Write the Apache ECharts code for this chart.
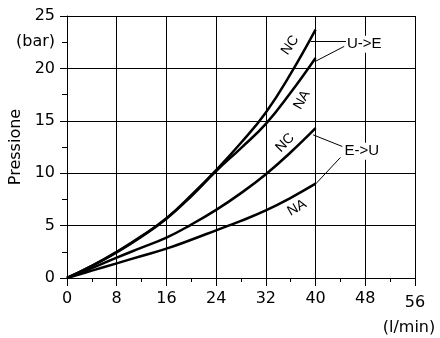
<!DOCTYPE html>
<html>
<head>
<meta charset="utf-8">
<script src="https://cdn.jsdelivr.net/npm/echarts@6/dist/echarts.min.js"></script>
<style>
html, body { margin: 0; padding: 0; background: #fff; }
#box { width: 440px; height: 338px; }
</style>
</head>
<body>
<div id="box"></div>
<script>
// portata (l/min)
var portata = [0, 4, 8, 12, 16, 20, 24, 28, 32, 36, 40];
// pressione (bar)
var ueNC = [0, 1.15, 2.5, 4.0, 5.7, 7.9, 10.3, 12.9, 15.8, 19.5, 23.7];
var ueNA = [0, 1.15, 2.45, 3.95, 5.65, 7.8, 10.2, 12.4, 14.7, 17.7, 21.0];
var euNC = [0, 0.95, 1.95, 2.9, 3.85, 5.1, 6.5, 8.1, 9.9, 12.0, 14.3];
var euNA = [0, 0.7, 1.4, 2.1, 2.8, 3.65, 4.55, 5.45, 6.45, 7.65, 9.0];

// curve labels: [x, y, testo, rotazione]
var curveLabels = [
	[35.9, 22.2, 'NC', 55],
	[37.8, 17.0, 'NA', 60],
	[35.1, 12.9, 'NC', 45],
	[37.0, 6.7, 'NA', 30]
];
// group labels: [x, y, testo]
var groupLabels = [
	[44.9, 22.3, 'U->E'],
	[44.5, 12.1, 'E->U']
];
// leader lines: [x1, y1, x2, y2]
var leaders = [
	[39.2, 22.6, 44.9, 22.6],
	[39.9, 20.65, 44.6, 22.1],
	[39.6, 13.66, 44.3, 12.55],
	[39.9, 8.9, 44.0, 11.5]
];

function pairs(ys) {
	var out = [];
	for (var i = 0; i < portata.length; i++) {
		out.push([portata[i], ys[i]]);
	}
	return out;
}

var myChart = echarts.init(document.getElementById('box'));
var font = 'DejaVu Sans';

function curve(ys) {
	return {
		type: 'line',
		data: pairs(ys),
		smooth: 0.45,
		symbol: 'none',
		lineStyle: { color: '#000', width: 2.5 },
		xAxisIndex: 0,
		yAxisIndex: 0,
		z: 5
	};
}

var series = [curve(ueNC), curve(ueNA), curve(euNC), curve(euNA)];

// annotations
series.push({
	type: 'line',
	data: [],
	xAxisIndex: 0,
	yAxisIndex: 0,
	markLine: {
		silent: true,
		symbol: 'none',
		label: { show: false },
		lineStyle: { color: '#000', width: 1, type: 'solid' },
		data: leaders.map(function (l) {
			return [{ coord: [l[0], l[1]] }, { coord: [l[2], l[3]] }];
		})
	},
	markPoint: {
		silent: true,
		symbol: 'circle',
		symbolSize: 0,
		data: curveLabels.map(function (c) {
			return {
				coord: [c[0], c[1]],
				label: {
					show: true,
					position: 'inside',
					formatter: c[2],
					rotate: c[3],
					color: '#000',
					fontFamily: 'Liberation Sans',
					fontSize: 14
				}
			};
		}).concat(groupLabels.map(function (g) {
			return {
				coord: [g[0], g[1]],
				label: {
					show: true,
					position: 'right',
					distance: 0,
					formatter: g[2],
					color: '#000',
					fontFamily: 'Liberation Sans',
					fontSize: 15,
					backgroundColor: '#fff',
					padding: [1, 1, 1, 1]
				}
			};
		}))
	},
	z: 6
});

var option = {
	animation: false,
	backgroundColor: '#fff',
	grid: { left: 67, right: 25, top: 16, bottom: 60, containLabel: false, outerBoundsMode: 'none' },
	xAxis: [{
		type: 'value',
		min: 0,
		max: 56,
		interval: 8,
		name: 'Portata',
		nameLocation: 'middle',
		nameGap: 42,
		nameTextStyle: { color: '#000', fontFamily: font, fontSize: 16 },
		axisLine: { show: true, lineStyle: { color: '#000', width: 1 } },
		axisTick: { show: true, length: 8, lineStyle: { color: '#000' } },
		minorTick: { show: true, splitNumber: 2, length: 4, lineStyle: { color: '#000' } },
		splitLine: { show: true, lineStyle: { color: '#000', width: 1 } },
		axisLabel: {
			color: '#000',
			fontFamily: font,
			fontSize: 16,
			margin: 13,
			formatter: function (v) {
				return v === 56 ? '{a|56}\n{b|(l/min)}' : String(v);
			},
			rich: {
				a: { fontFamily: font, fontSize: 16, color: '#000', lineHeight: 24 },
				b: { fontFamily: font, fontSize: 16, color: '#000', lineHeight: 26, padding: [0, 12, 0, 0] }
			}
		}
	}],
	yAxis: [{
		type: 'value',
		min: 0,
		max: 25,
		interval: 5,
		name: 'Pressione',
		nameLocation: 'middle',
		nameGap: 37,
		nameTextStyle: { color: '#000', fontFamily: font, fontSize: 16 },
		axisLine: { show: true, lineStyle: { color: '#000', width: 1 } },
		axisTick: { show: true, length: 7, lineStyle: { color: '#000' } },
		minorTick: { show: true, splitNumber: 2, length: 5, lineStyle: { color: '#000' } },
		splitLine: { show: true, lineStyle: { color: '#000', width: 1 } },
		axisLabel: { color: '#000', fontFamily: font, fontSize: 16, margin: 12 }
	}, {
		type: 'value',
		position: 'left',
		min: 0,
		max: 25,
		interval: 2.5,
		axisLine: { show: false },
		axisTick: { show: false },
		splitLine: { show: false },
		axisLabel: {
			color: '#000',
			fontFamily: font,
			fontSize: 16,
			margin: 12,
			formatter: function (v) {
				return v === 22.5 ? '(bar)' : '';
			}
		}
	}],
	series: series
};
myChart.setOption(option);
</script>
</body>
</html>
